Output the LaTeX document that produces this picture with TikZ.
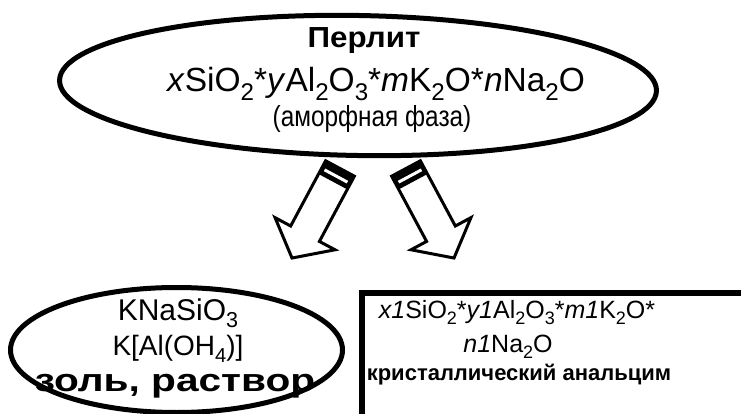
\documentclass[tikz,border=0pt]{standalone}
\usepackage{fontspec}
\setmainfont{Liberation Sans}
\newfontfamily\condfont[FakeStretch=0.84]{Liberation Sans}
\newfontfamily\widefont[FakeStretch=1.27]{Liberation Sans}
\newfontfamily\perlfont[FakeStretch=1.08]{Liberation Sans}
\newcommand\sbs[1]{\raisebox{-0.25em}{\scalebox{0.72}{#1}}}
\usetikzlibrary{shapes.geometric}
\begin{document}
\begin{tikzpicture}[x=1pt,y=-1pt,
  blockarrow/.style={draw, line width=3pt, fill=white, line join=miter},
  txt/.style={anchor=base, inner sep=0pt},
]
\useasboundingbox (0,0) rectangle (741,414);
\fill[white] (0,0) rectangle (741,414);
\clip (0,0) rectangle (741,414);

% top ellipse
\node[draw, ellipse, line width=5pt, minimum width=597pt, minimum height=140pt, inner sep=0pt, rotate=-1] (perlit) at (358,85.5) {};
\node[txt, font={\fontsize{29}{34}\perlfont\bfseries}] (t1) at (364,48) {Перлит};
\node[txt, font={\fontsize{33.5}{40}\selectfont}] (t2) at (376,92) {\textit{x}SiO\sbs{2}*\textit{y}Al\sbs{2}O\sbs{3}*\textit{m}K\sbs{2}O*\textit{n}Na\sbs{2}O};
\node[txt, font={\fontsize{29}{34}\condfont}] (t3) at (372,127) {(аморфная фаза)};

% left block arrow
\begin{scope}[shift={(340,168.5)}, rotate=-28.2]
  \draw[blockarrow] (-16.3,0) -- (16.3,0) -- (16.3,74) -- (34,74) -- (0,101.6) -- (-34,74) -- (-16.3,74) -- cycle;
  \fill (-16.3,0) rectangle (16.3,15);
  \fill[white] (-13,7) rectangle (13,10);
\end{scope}
% right block arrow
\begin{scope}[shift={(406,168.5)}, rotate=28.2]
  \draw[blockarrow] (-16.3,0) -- (16.3,0) -- (16.3,74) -- (34,74) -- (0,101.6) -- (-34,74) -- (-16.3,74) -- cycle;
  \fill (-16.3,0) rectangle (16.3,15);
  \fill[white] (-13,7) rectangle (13,10);
\end{scope}

% bottom left ellipse
\node[draw, ellipse, line width=5pt, minimum width=332pt, minimum height=125pt, inner sep=0pt] (sol) at (176.5,350) {};
\node[txt, font={\fontsize{30}{35}\selectfont}] (s1) at (178,320) {KNaSiO\sbs{3}};
\node[txt, font={\fontsize{28}{34}\selectfont}] (s2) at (178,355) {K[Al(OH\sbs{4})]};
\node[txt, font={\fontsize{32}{38}\widefont\bfseries}] (s3) at (175,391) {золь, раствор};

% bottom right box
\node[draw, rectangle, line width=6pt, minimum width=420pt, minimum height=160pt, inner sep=0pt, anchor=north west] (crys) at (359,290) {};
\node[txt, font={\fontsize{25}{30}\selectfont}] (c1) at (517,318) {\textit{x1}SiO\sbs{2}*\textit{y1}Al\sbs{2}O\sbs{3}*\textit{m1}K\sbs{2}O*};
\node[txt, font={\fontsize{25}{30}\selectfont}] (c2) at (508,352) {\textit{n1}Na\sbs{2}O};
\node[txt, font={\fontsize{22}{27}\selectfont\bfseries}] (c3) at (519,380) {кристаллический анальцим};
\end{tikzpicture}
\end{document}
